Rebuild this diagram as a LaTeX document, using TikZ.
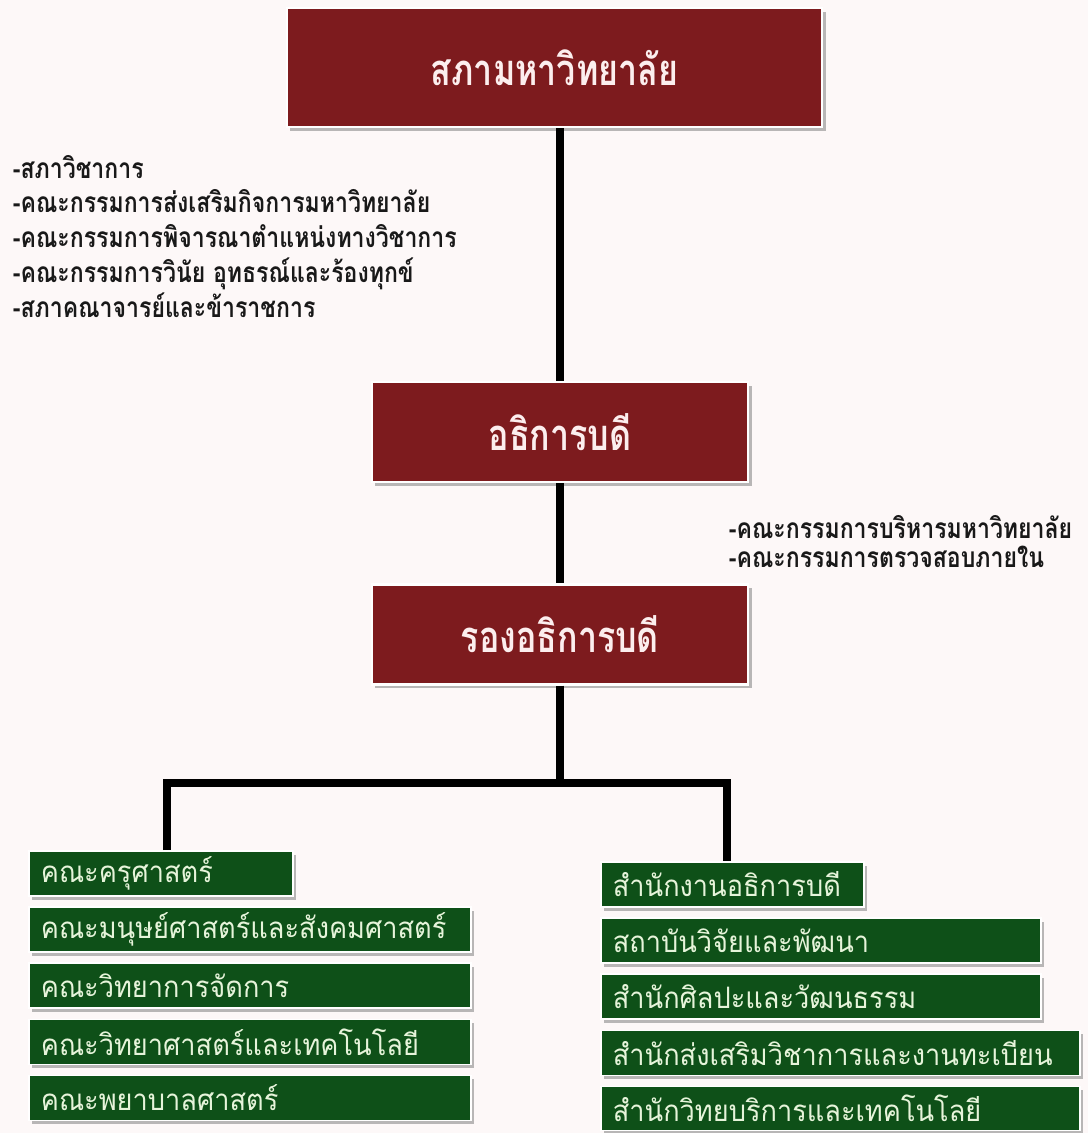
\documentclass[tikz,border=0pt]{standalone}
\usepackage{fontspec}
\newfontfamily\thai[Script=Thai, FakeStretch=0.92]{Loma}
\newfontfamily\thaicond[Script=Thai, FakeStretch=0.82]{Loma}
\newfontfamily\thaititle[Script=Thai, FakeStretch=0.78]{Loma}
\definecolor{boardred}{RGB}{125, 27, 30}
\definecolor{facgreen}{RGB}{14, 80, 24}
\definecolor{paper}{RGB}{253, 248, 248}
\definecolor{pinktext}{RGB}{252, 238, 238}
\definecolor{mintext}{RGB}{230, 244, 218}
\usetikzlibrary{positioning, shadows}

\tikzset{
  boxshadow/.style={drop shadow={shadow xshift=2.5pt, shadow yshift=-2.5pt, opacity=0.45, fill=black!60}},
  redbox/.style={boxshadow, draw=white, line width=1.5pt, fill=boardred, text=pinktext,
    font=\thaititle\bfseries\fontsize{31}{34}\selectfont, inner sep=0pt},
  greenbox/.style={boxshadow, draw=white, line width=1.2pt, fill=facgreen, text=mintext,
    font=\thai\fontsize{21}{24}\selectfont, align=left, inner xsep=0.3cm, inner ysep=0pt,
    minimum height=1.125cm, anchor=west},
  duty/.style={font=\thaicond\bfseries\fontsize{20}{24.8}\selectfont, align=left, text=black!90},
  conn/.style={line width=5.5pt, black}
}

\begin{document}
\begin{tikzpicture}[x=0.025cm, y=-0.025cm]
  % page
  \fill[paper] (0,0) rectangle (1088,1133);
  \useasboundingbox (0,0) rectangle (1088,1133);

  % chain of command
  \node[redbox, minimum width=13.375cm, minimum height=2.975cm] (council) at (554.5, 67.5) {สภามหาวิทยาลัย};
  \node[redbox, minimum width=9.4cm, minimum height=2.5cm] (president) at (560, 432) {อธิการบดี};
  \node[redbox, minimum width=9.4cm, minimum height=2.5cm] (vice) at (560, 634.5) {รองอธิการบดี};

  % committees
  \node[duty, anchor=north west] (councilduty) at (8, 150) {%
    -สภาวิชาการ\\
    -คณะกรรมการส่งเสริมกิจการมหาวิทยาลัย\\
    -คณะกรรมการพิจารณาตำแหน่งทางวิชาการ\\
    -คณะกรรมการวินัย อุทธรณ์และร้องทุกข์\\
    -สภาคณาจารย์และข้าราชการ};
  \node[duty, anchor=north west, font=\thaicond\bfseries\fontsize{20}{20.6}\selectfont] (presduty) at (724, 510) {%
    -คณะกรรมการบริหารมหาวิทยาลัย\\
    -คณะกรรมการตรวจสอบภายใน};

  % faculties
  \node[greenbox, text width=6cm] (fac1) at (28, 873.5) {คณะครุศาสตร์};
  \node[greenbox, text width=10.45cm] (fac2) at (28, 929.5) {คณะมนุษย์ศาสตร์และสังคมศาสตร์};
  \node[greenbox, text width=10.45cm] (fac3) at (28, 985.5) {คณะวิทยาการจัดการ};
  \node[greenbox, text width=10.45cm] (fac4) at (28, 1042) {คณะวิทยาศาสตร์และเทคโนโลยี};
  \node[greenbox, text width=10.45cm] (fac5) at (28, 1098) {คณะพยาบาลศาสตร์};

  % offices
  \node[greenbox, text width=5.975cm] (off1) at (600, 884.5) {สำนักงานอธิการบดี};
  \node[greenbox, text width=10.4cm] (off2) at (600, 940.5) {สถาบันวิจัยและพัฒนา};
  \node[greenbox, text width=10.4cm] (off3) at (600, 996.5) {สำนักศิลปะและวัฒนธรรม};
  \node[greenbox, text width=11.375cm] (off4) at (600, 1053) {สำนักส่งเสริมวิชาการและงานทะเบียน};
  \node[greenbox, text width=11.375cm, minimum height=1.1cm] (off5) at (600, 1108.5) {สำนักวิทยบริการและเทคโนโลยี};

  % connectors
  \coordinate (forkL) at (167, 783);
  \coordinate (forkR) at (727, 783);
  \draw[conn] (president.north) -- (president.north |- council.south);
  \draw[conn] (president.south) -- (vice.north);
  \draw[conn] (vice.south) -- (vice.south |- forkL);
  \draw[conn] (forkL |- fac1.north) -- (forkL) -- (forkR) -- (forkR |- off1.north);
\end{tikzpicture}
\end{document}
